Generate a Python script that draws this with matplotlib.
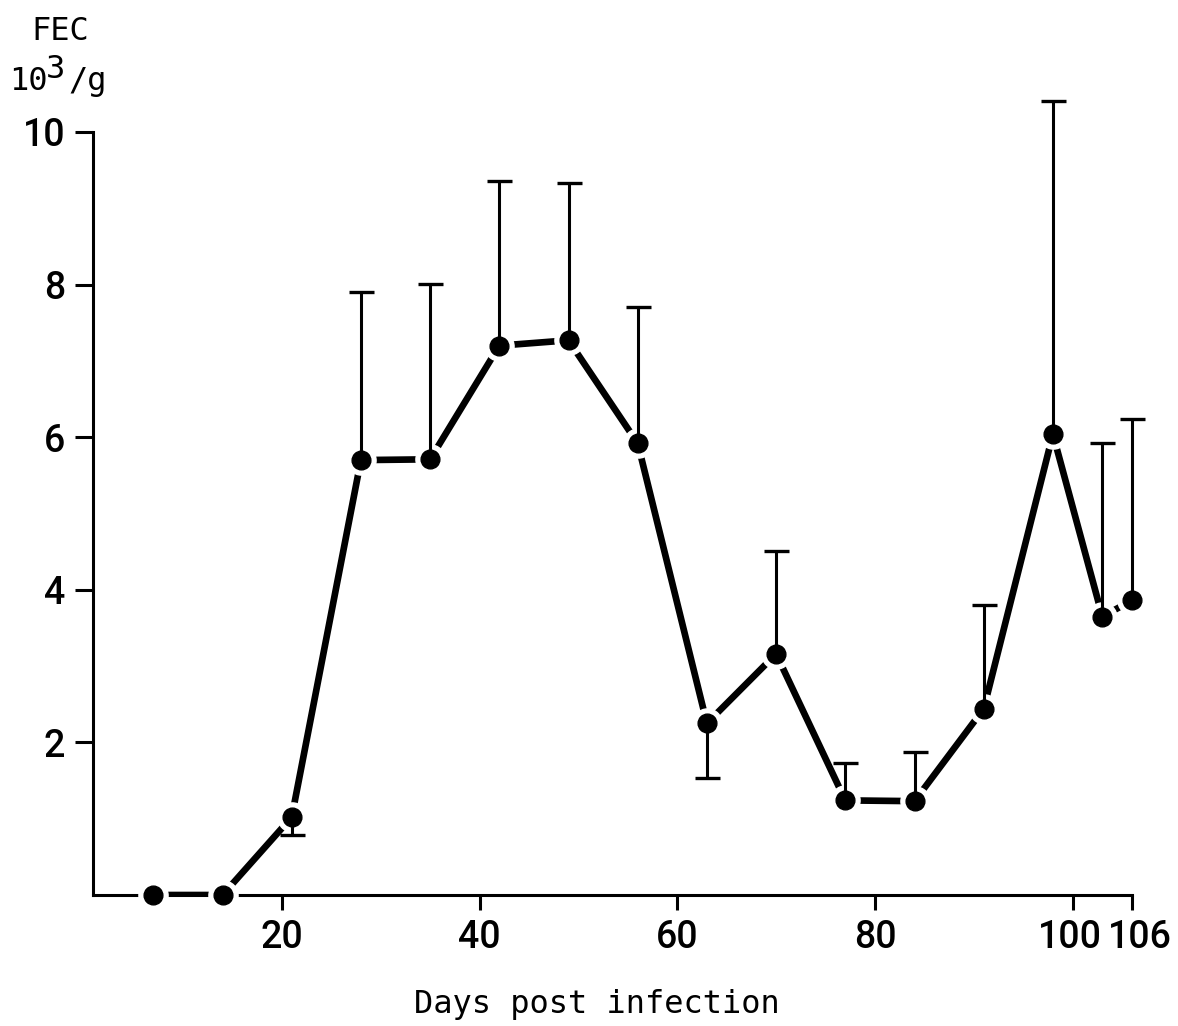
import matplotlib
matplotlib.use("Agg")
import matplotlib.pyplot as plt
from matplotlib.transforms import ScaledTranslation

# faecal egg counts (10^3 eggs per g) by day after infection
days = [7, 14, 21, 28, 35, 42, 49, 56, 63, 70, 77, 84, 91, 98, 103, 106]
fec = [0.0, 0.0, 1.02, 5.70, 5.71, 7.20, 7.27, 5.92, 2.25, 3.16, 1.24, 1.23, 2.44, 6.04, 3.65, 3.86]
# one-sided error bars, either above or below the mean
err_up = [0, 0, 0, 2.20, 2.30, 2.16, 2.06, 1.78, 0, 1.35, 0.49, 0.64, 1.36, 4.36, 2.28, 2.38]
err_down = [0, 0, 0.23, 0, 0, 0, 0, 0, 0.72, 0, 0, 0, 0, 0, 0, 0]

xticks = [20, 40, 60, 80, 100, 106]
yticks = [2, 4, 6, 8, 10]

tick_font = ["Roboto", "DejaVu Sans"]
mono_font = "DejaVu Sans Mono"

fig = plt.figure(figsize=(11.78, 10.26), dpi=100)
ax = fig.add_axes([93 / 1178, 131 / 1026, (1132 - 93) / 1178, (895 - 132) / 1026])

# thick connecting line, broken near each point by a white ring
ax.plot(days, fec, color="black", lw=4.8, solid_capstyle="butt", zorder=2)
ax.plot(days, fec, "o", ms=21, color="white", mec="white", zorder=3, clip_on=False)

# error bars with a single cap
for x, y, up, dn in zip(days, fec, err_up, err_down):
    if up > 0:
        ax.vlines(x, y, y + up, color="black", lw=2.2, zorder=4, clip_on=False)
        ax.plot(x, y + up, marker="_", ms=18, mew=2.4, color="black", zorder=4, clip_on=False)
    if dn > 0:
        ax.vlines(x, y - dn, y, color="black", lw=2.2, zorder=4, clip_on=False)
        ax.plot(x, y - dn, marker="_", ms=18, mew=2.4, color="black", zorder=4, clip_on=False)

ax.plot(days, fec, "o", ms=13.5, color="black", zorder=5, clip_on=False)

ax.set_xlim(0.9, 106)
ax.set_ylim(0, 10)
ax.set_xticks(xticks)
ax.set_yticks(yticks)

for side in ["top", "right"]:
    ax.spines[side].set_visible(False)
for side in ["left", "bottom"]:
    ax.spines[side].set_linewidth(2.2)
ax.tick_params(axis="x", direction="out", length=11, width=2.2, pad=6)
ax.tick_params(axis="y", direction="out", length=13, width=2.2, pad=7)

ax.set_xticklabels([str(t) for t in xticks], family=tick_font, fontsize=27, weight="medium")
ax.set_yticklabels([str(t) for t in yticks], family=tick_font, fontsize=27, weight="medium")

# the last two day labels sit close together, spread them apart a little
labels = ax.get_xticklabels()
for lab, dx in [(labels[-2], -0.03), (labels[-1], 0.08)]:
    lab.set_transform(lab.get_transform() + ScaledTranslation(dx, 0, fig.dpi_scale_trans))

# axis titles
fig.text(597 / 1178, (1026 - 1013) / 1026, "Days post infection", family=mono_font,
         fontsize=23, ha="center", va="baseline")
fig.text(60 / 1178, (1026 - 40) / 1026, "FEC", family=mono_font, fontsize=23,
         ha="center", va="baseline")
fig.text(9 / 1178, (1026 - 90) / 1026, "10", family=mono_font, fontsize=23,
         ha="left", va="baseline")
fig.text(46 / 1178, (1026 - 78) / 1026, "3", family=mono_font, fontsize=23,
         ha="left", va="baseline")
fig.text(68 / 1178, (1026 - 90) / 1026, "/g", family=mono_font, fontsize=23,
         ha="left", va="baseline")

fig.savefig("out.png", dpi=100)
